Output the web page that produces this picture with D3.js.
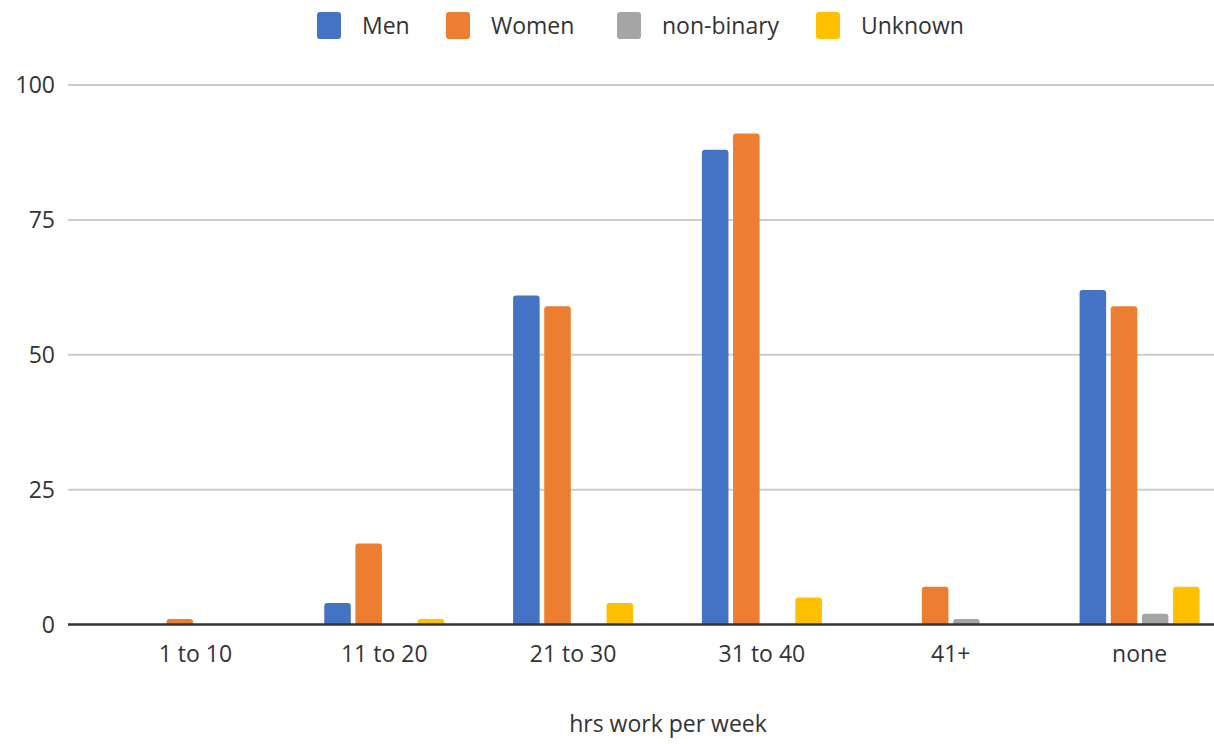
<!DOCTYPE html>
<html>
<head>
<meta charset="utf-8">
<script src="https://cdn.jsdelivr.net/npm/d3@7"></script>
<style>
html,body{margin:0;padding:0;background:#fff;}
svg{display:block;}
text{font-family:"Open Sans",sans-serif;fill:#333;}
</style>
</head>
<body>
<svg id="chart" width="1214" height="744"></svg>
<script>
const categories = ["1 to 10", "11 to 20", "21 to 30", "31 to 40", "41+", "none"];
const seriesNames = ["Men", "Women", "non-binary", "Unknown"];
const men       = [0, 4, 61, 88, 0, 62];
const women     = [1, 15, 59, 91, 7, 59];
const nonbinary = [0, 0, 0, 0, 1, 2];
const unknown   = [0, 1, 4, 5, 0, 7];
const yTicks = [0, 25, 50, 75, 100];
const colors = ["#4472C4", "#ED7D31", "#A5A5A5", "#FFC000"];
const xTitle = "hrs work per week";

const seriesValues = [men, women, nonbinary, unknown];
const data = categories.map((c, i) => ({
  cat: c,
  vals: seriesNames.map((s, j) => ({ series: s, value: seriesValues[j][i], color: colors[j] }))
}));

const W = 1214, H = 744;
const svg = d3.select("#chart");

const y = d3.scaleLinear().domain([0, 100]).range([624.5, 85]);
const x0 = d3.scaleBand().domain(categories).range([101, 1234]).padding(0);
const x1 = d3.scaleBand().domain(seriesNames).range([-60, 60]).paddingInner(0.148).paddingOuter(0);

const gridLeft = 68, gridRight = W;

// gridlines
svg.append("g").selectAll("line").data(yTicks.filter(t => t !== 0)).join("line")
  .attr("x1", gridLeft).attr("x2", gridRight)
  .attr("y1", d => y(d)).attr("y2", d => y(d))
  .attr("stroke", "#cccccc").attr("stroke-width", 2);

// y labels
svg.append("g").selectAll("text").data(yTicks).join("text")
  .attr("x", 55).attr("y", d => y(d)).attr("dy", "0.36em")
  .attr("text-anchor", "end").style("font-size", "23px")
  .text(d => d);

function barPath(x, yTop, w, yBase, r) {
  const h = yBase - yTop;
  r = Math.min(r, h, w / 2);
  return `M${x},${yBase}V${yTop + r}Q${x},${yTop} ${x + r},${yTop}H${x + w - r}Q${x + w},${yTop} ${x + w},${yTop + r}V${yBase}Z`;
}

// bars
const groups = svg.append("g").selectAll("g").data(data).join("g")
  .attr("transform", d => `translate(${x0(d.cat) + x0.bandwidth() / 2},0)`);
groups.selectAll("path").data(d => d.vals.filter(v => v.value > 0)).join("path")
  .attr("d", v => barPath(x1(v.series), y(v.value), x1.bandwidth(), y(0), 3))
  .attr("fill", v => v.color);

// zero axis line
svg.append("line").attr("x1", gridLeft).attr("x2", gridRight)
  .attr("y1", y(0)).attr("y2", y(0))
  .attr("stroke", "#333").attr("stroke-width", 2.5);

// x axis labels
const xAxis = d3.axisBottom(x0).tickSize(0).tickPadding(21);
const xg = svg.append("g").attr("transform", `translate(0,${y(0)})`).call(xAxis);
xg.select(".domain").remove();
xg.selectAll("text").style("font-size", "23px").attr("fill", "#333")
  .style("font-family", '"Open Sans",sans-serif');

// x title
svg.append("text").attr("x", 668).attr("y", 724).attr("dy", "0.36em")
  .attr("text-anchor", "middle").style("font-size", "23px").text(xTitle);

// legend
const legendX = [317, 446, 617, 816];
const lg = svg.append("g").selectAll("g").data(seriesNames).join("g")
  .attr("transform", (d, i) => `translate(${legendX[i]},12)`);
lg.append("rect").attr("width", 24).attr("height", 27).attr("rx", 3)
  .attr("fill", (d, i) => colors[i]);
lg.append("text").attr("x", 45).attr("y", 13.5).attr("dy", "0.36em")
  .style("font-size", "23px").text(d => d);
</script>
</body>
</html>
